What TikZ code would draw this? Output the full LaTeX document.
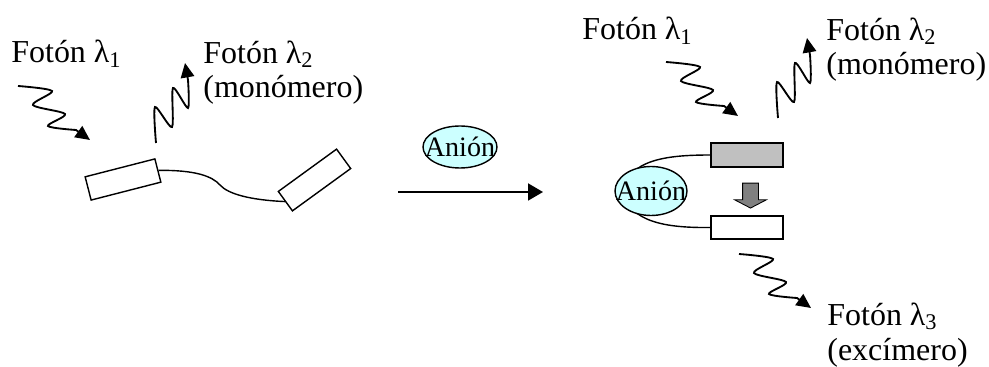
\documentclass[tikz,border=0pt]{standalone}
\usepackage{fontspec}
\setmainfont{Liberation Serif}
\usepackage{tikz}
\usetikzlibrary{shapes.geometric}
\usetikzlibrary{shapes.arrows}
\usetikzlibrary{arrows.meta}
\usepackage{xcolor}

\definecolor{celeste}{HTML}{CCFFFF}
\definecolor{plata}{HTML}{C0C0C0}
\definecolor{gris}{HTML}{808080}

% 波浪箭头:入射光子 / 出射光子
\newcommand{\fotonin}[1]{%
  \draw[foton, shift={(#1)}] plot[smooth, tension=0.5] coordinates {(0,0) (34,5) (15,19) (47,28) (30,40) (58,44)} -- (72,54);}
\newcommand{\fotonout}[1]{%
  \draw[foton, shift={(#1)}] plot[smooth, tension=0.45] coordinates {(0,0) (-1,-36) (16,-16) (17,-55) (32,-35) (32,-63)} -- (29,-80);}

\begin{document}
\begin{tikzpicture}[x=0.02cm, y=-0.02cm]
        % ================= 样式定义 =================
        \tikzset{
            % 文字标签 (多行时 base 为最后一行)
            etiqueta/.style={anchor=base west, inner sep=0pt, align=left, font=\fontsize{18.2}{19.9}\selectfont},
            % 荧光团 (单体)
            fluor/.style={draw=black, line width=0.8pt, fill=white, minimum width=1.44cm, minimum height=0.48cm, inner sep=0pt},
            % 荧光团 (激发态, 灰色)
            fluor_exc/.style={fluor, fill=plata},
            % 阴离子
            anion/.style={ellipse, draw=black, line width=0.8pt, fill=celeste, inner sep=0pt, minimum width=1.48cm, minimum height=0.84cm, label={[font=\fontsize{16}{18}\selectfont]center:Anión}},
            % 连接链
            cadena/.style={line width=0.8pt, black},
            % 光子
            foton/.style={line width=1.05pt, -{Triangle[length=0.29cm, width=0.27cm]}},
            % 反应箭头
            reaccion/.style={line width=1.1pt, -{Triangle[length=0.3cm, width=0.34cm]}},
            % 灰色粗箭头
            flecha_gris/.style={single arrow, draw=black, fill=gris, line width=0.5pt, minimum height=0.5cm, inner xsep=0pt, inner ysep=0.15cm, single arrow head extend=0.16cm, single arrow tip angle=125, rotate=-90}
        }
        \useasboundingbox (0,0) rectangle (989,367);

        % ================= 左侧部分:自由状态 =================
        \node[fluor, rotate=14.4] (mono1) at (123,179.5) {};
        \node[fluor, rotate=36] (mono2) at (314.5,180) {};
        \coordinate (pliegue) at (220,185);
        \draw[cadena] (mono1.east) .. controls (195,170) and (212,176) .. (pliegue) .. controls (228,194) and (250,200) .. (mono2.west);

        \coordinate (f1a) at (18,86);
        \fotonin{f1a}
        \coordinate (f2a) at (156,143);
        \fotonout{f2a}

        \node[etiqueta] (t1a) at (11,63) {Fotón λ\textsubscript{1}};
        \node[etiqueta] (t2a) at (203,98) {Fotón λ\textsubscript{2}\\(monómero)};

        % ================= 中间:加入阴离子 =================
        \node[anion] (anion1) at (460,147) {};
        \coordinate (ini) at (398,192);
        \coordinate (fin) at (543,192);
        \draw[reaccion] (ini) -- (fin);

        % ================= 右侧部分:形成激基缔合物 =================
        \node[fluor_exc] (exc1) at (747,155) {};
        \node[fluor, minimum height=0.46cm] (exc2) at (747,227.5) {};
        \node[flecha_gris] (transf) at (750.5,193.5) {};
        \coordinate (lazo) at (622,191);
        \draw[cadena] (exc1.west) .. controls (665,155) and (630,160) .. (lazo) .. controls (630,222) and (665,228) .. (exc2.west);
        \node[anion, minimum width=1.44cm, minimum height=0.98cm] (anion2) at (651,191) {};

        \coordinate (f1b) at (666,62);
        \fotonin{f1b}
        \coordinate (f2b) at (778,118);
        \fotonout{f2b}
        \coordinate (f3) at (739,254);
        \fotonin{f3}

        \node[etiqueta] (t1b) at (582,40) {Fotón λ\textsubscript{1}};
        \node[etiqueta] (t2b) at (826,75) {Fotón λ\textsubscript{2}\\(monómero)};
        \node[etiqueta] (t3) at (827,360) {Fotón λ\textsubscript{3}\\(excímero)};

    \end{tikzpicture}
\end{document}
